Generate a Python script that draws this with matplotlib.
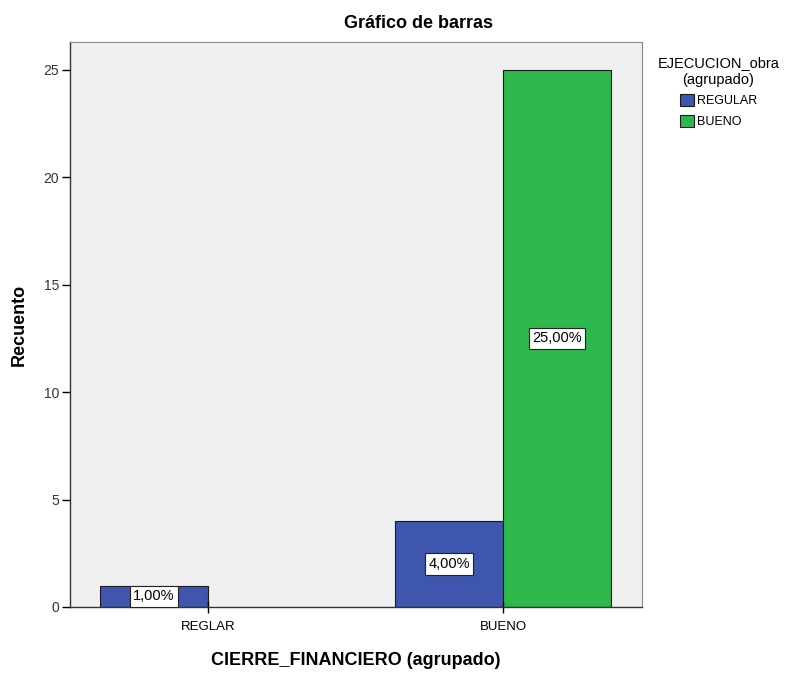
import numpy as np
import matplotlib.pyplot as plt

categories = ["REGLAR", "BUENO"]
series_names = ["REGULAR", "BUENO"]
regular_counts = [1, 4]
bueno_counts = [0, 25]
regular_labels = ["1,00%", "4,00%"]
bueno_labels = ["", "25,00%"]
y_ticks = [0, 5, 10, 15, 20, 25]

BLUE = "#3E56AD"
GREEN = "#2DB84B"


def main():
    plt.rcParams['font.family'] = ['Liberation Sans', 'DejaVu Sans']

    fig = plt.figure(figsize=(8.01, 6.73), dpi=100)
    ax = fig.add_axes([70 / 801, 66 / 673, 572 / 801, 565 / 673])
    ax.set_facecolor("#F0F0F0")

    x = np.arange(len(categories))
    width = 0.366

    ax.bar(x - width / 2, regular_counts, width, color=BLUE,
           edgecolor="#1a1a1a", linewidth=0.8, label=series_names[0])
    green_x = [xi + width / 2 for xi, v in zip(x, bueno_counts) if v > 0]
    green_v = [v for v in bueno_counts if v > 0]
    ax.bar(green_x, green_v, width, color=GREEN,
           edgecolor="#1a1a1a", linewidth=0.8, label=series_names[1])

    box = dict(boxstyle="square,pad=0.25", facecolor="white",
               edgecolor="#222222", linewidth=0.8)
    for xi, v, lab in zip(x, regular_counts, regular_labels):
        ax.text(xi - width / 2, v / 2, lab, ha="center", va="center",
                fontsize=10.5, bbox=box)
    for xi, v, lab in zip(x, bueno_counts, bueno_labels):
        if lab:
            ax.text(xi + width / 2, v / 2, lab, ha="center", va="center",
                    fontsize=10.5, bbox=box)

    ax.set_xlim(-0.468, 1.471)
    ax.set_ylim(0, 26.3)
    ax.set_xticks(x)
    ax.set_xticklabels(categories, fontsize=9.5)
    ax.set_yticks(y_ticks)
    ax.set_yticklabels([str(t) for t in y_ticks], fontsize=10, color="#333333")
    ax.tick_params(axis="y", length=6, width=1, direction="out", pad=2)
    ax.tick_params(axis="x", length=8, width=1, direction="inout", pad=6)

    for side in ["left", "bottom"]:
        ax.spines[side].set_color("#333333")
        ax.spines[side].set_linewidth(1)
    for side in ["top", "right"]:
        ax.spines[side].set_color("#888888")
        ax.spines[side].set_linewidth(0.8)

    ax.set_ylabel("Recuento", fontsize=13, fontweight="bold", labelpad=11)
    ax.set_xlabel("CIERRE_FINANCIERO (agrupado)", fontsize=13,
                  fontweight="bold", labelpad=14)
    fig.text(0.5225, 1 - 24 / 673, "Gráfico de barras", ha="center",
             va="center", fontsize=13, fontweight="bold")

    leg = ax.legend(title="EJECUCION_obra\n(agrupado)", loc="upper left",
                    bbox_to_anchor=(1.012, 0.99), frameon=False, fontsize=9,
                    title_fontsize=10.5, handlelength=1.1, handleheight=1.1,
                    handletextpad=0.2, labelspacing=0.6, borderaxespad=0.3)
    leg.get_title().set_multialignment("center")

    fig.savefig("out.png", dpi=100)
    plt.close(fig)


if __name__ == "__main__":
    main()
